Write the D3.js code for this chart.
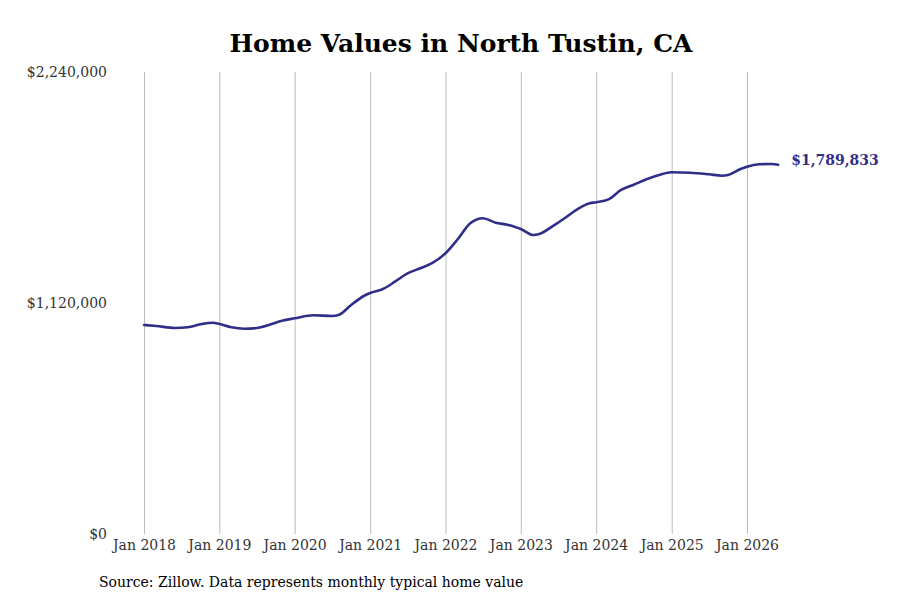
<!DOCTYPE html>
<html>
<head>
<meta charset="utf-8">
<script src="https://cdn.jsdelivr.net/npm/d3@7"></script>
<style>
  body { margin: 0; background: #fff; }
  svg { display: block; }
</style>
</head>
<body>
<div id="chart"></div>
<script>
// Values (month, typical home value)
const months = [
  "2018-01", "2018-03", "2018-06", "2018-08", "2018-10", "2018-12",
  "2019-01", "2019-03", "2019-05", "2019-07", "2019-09", "2019-11",
  "2020-01", "2020-04", "2020-07", "2020-08", "2020-10", "2020-12",
  "2021-01", "2021-03", "2021-05", "2021-07", "2021-09", "2021-11",
  "2022-01", "2022-03", "2022-05", "2022-07", "2022-09", "2022-11", "2022-12",
  "2023-01", "2023-03", "2023-04", "2023-06", "2023-08", "2023-10", "2023-12",
  "2024-01", "2024-03", "2024-05", "2024-07", "2024-09", "2024-11",
  "2025-01", "2025-04", "2025-07", "2025-09", "2025-10", "2025-12",
  "2026-01", "2026-03", "2026-05", "2026-06"
];
const values = [
  1013300, 1008500, 998800, 1002200, 1016700, 1024500,
  1018200, 1002200, 995400, 998800, 1014800, 1034200,
  1045800, 1060400, 1057000, 1061800, 1110300, 1154000,
  1168500, 1186400, 1223300, 1264000, 1288200, 1315400,
  1361000, 1428900, 1506400, 1530700, 1509400, 1498200, 1489900,
  1478800, 1449700, 1454600, 1489900, 1530700, 1574300, 1603400,
  1608300, 1622800, 1667900, 1693600, 1719800, 1740600,
  1753700, 1751800, 1744000, 1737200, 1740600, 1769700,
  1780900, 1792500, 1794000, 1789833
];
const yTicks = [0, 1120000, 2240000];
const xTickYears = [2018, 2019, 2020, 2021, 2022, 2023, 2024, 2025, 2026];

const parseMonth = d3.timeParse("%Y-%m");
const data = months.map((m, i) => ({ date: parseMonth(m), value: values[i] }));

const width = 900, height = 600;
const textFont = "'DejaVu Serif', serif";
const lineColor = "#2f2f8a";

const svg = d3.select("#chart").append("svg")
    .attr("width", width)
    .attr("height", height);

// Scales: Jan 2018 at the left gridline, ~75.4px per year
const xScale = d3.scaleTime()
    .domain([new Date(2018, 0, 1), new Date(2026, 0, 1)])
    .range([144, 747]);

const yScale = d3.scaleLinear()
    .domain([0, 2240000])
    .range([534, 72]);

// Title
svg.append("text")
    .attr("x", 461)
    .attr("y", 52)
    .attr("text-anchor", "middle")
    .style("font-family", textFont)
    .style("font-weight", "bold")
    .style("font-size", "25px")
    .style("fill", "#000")
    .text("Home Values in North Tustin, CA");

// Vertical gridlines + x labels
const xTicks = xTickYears.map(y => new Date(y, 0, 1));
const xAxis = d3.axisBottom(xScale)
    .tickValues(xTicks)
    .tickSize(-(534 - 72))
    .tickPadding(6)
    .tickFormat(d3.timeFormat("Jan %Y"));

const gx = svg.append("g")
    .attr("transform", "translate(0,534)")
    .call(xAxis);
gx.select(".domain").remove();
gx.selectAll(".tick line").attr("stroke", "#bdbdbd").attr("stroke-width", 1);
gx.selectAll(".tick text")
    .style("font-family", textFont)
    .style("font-size", "14px")
    .style("fill", "#333");

// Y labels, no axis line
const yAxis = d3.axisLeft(yScale)
    .tickValues(yTicks)
    .tickSize(0)
    .tickPadding(0)
    .tickFormat(d => "$" + d3.format(",")(d));

const gy = svg.append("g")
    .attr("transform", "translate(107,0)")
    .call(yAxis);
gy.select(".domain").remove();
gy.selectAll(".tick text")
    .style("font-family", textFont)
    .style("font-size", "14px")
    .style("fill", "#333");

// Line
const line = d3.line()
    .x(d => xScale(d.date))
    .y(d => yScale(d.value))
    .curve(d3.curveMonotoneX);

svg.append("path")
    .datum(data)
    .attr("d", line)
    .style("fill", "none")
    .style("stroke", lineColor)
    .style("stroke-width", 2.6)
    .style("stroke-linecap", "round");

// End label, sits a little above the line end
const last = data[data.length - 1];
svg.append("text")
    .attr("x", xScale(last.date) + 13)
    .attr("y", yScale(last.value) - 5)
    .attr("dy", "0.35em")
    .style("font-family", textFont)
    .style("font-weight", "bold")
    .style("font-size", "14px")
    .style("fill", lineColor)
    .text("$" + d3.format(",")(last.value));

// Source note
svg.append("text")
    .attr("x", 99)
    .attr("y", 587)
    .style("font-family", textFont)
    .style("font-size", "14px")
    .style("fill", "#000")
    .text("Source: Zillow. Data represents monthly typical home value");
</script>
</body>
</html>
